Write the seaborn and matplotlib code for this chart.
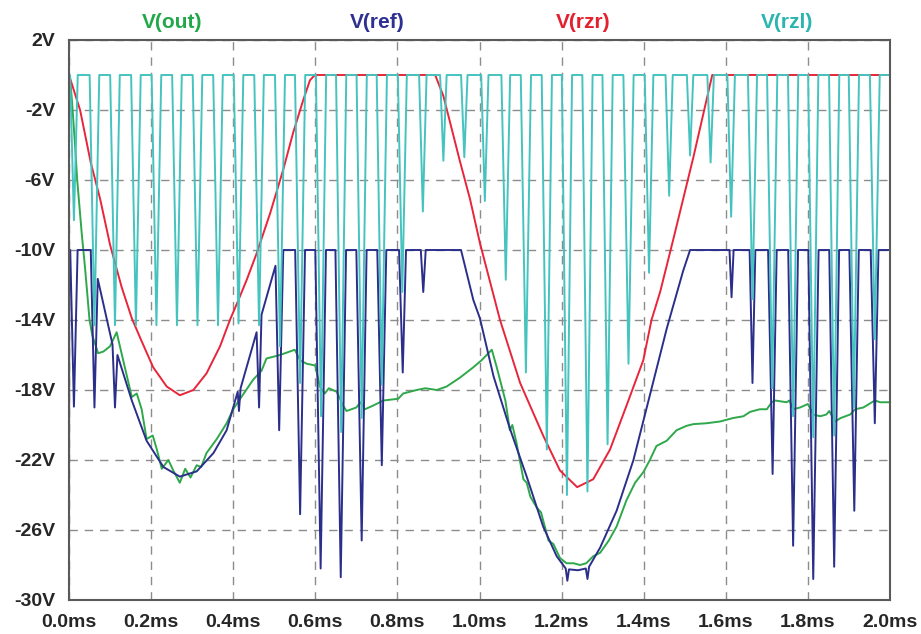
import numpy as np
import pandas as pd
import seaborn as sns
import matplotlib.pyplot as plt

# ---- data (time in ms, volts) ----
out_t = [0.0, 0.002, 0.007, 0.015, 0.020, 0.031, 0.039, 0.050, 0.057, 0.071, 0.084, 0.100, 0.116, 0.128,
         0.153, 0.165, 0.177, 0.189, 0.204, 0.214, 0.226, 0.242, 0.254, 0.270, 0.283, 0.296, 0.311, 0.322,
         0.335, 0.360, 0.384, 0.400, 0.417, 0.449, 0.469, 0.481, 0.514, 0.550, 0.563, 0.579, 0.600, 0.611,
         0.623, 0.633, 0.652, 0.668, 0.676, 0.700, 0.710, 0.721, 0.740, 0.766, 0.802, 0.814, 0.847, 0.868,
         0.896, 0.920, 0.952, 0.985, 1.005, 1.030, 1.042, 1.063, 1.074, 1.080, 1.090, 1.107, 1.115, 1.124,
         1.139, 1.150, 1.168, 1.180, 1.196, 1.212, 1.229, 1.245, 1.260, 1.277, 1.294, 1.315, 1.334, 1.358,
         1.379, 1.399, 1.415, 1.431, 1.456, 1.480, 1.504, 1.521, 1.553, 1.586, 1.602, 1.618, 1.643, 1.659,
         1.683, 1.700, 1.712, 1.720, 1.748, 1.755, 1.764, 1.781, 1.800, 1.813, 1.830, 1.845, 1.852, 1.866,
         1.880, 1.903, 1.915, 1.935, 1.963, 1.976, 2.0]
out_v = [0.0, -0.1, -1.4, -4.1, -6.0, -9.05, -11.0, -14.0, -14.9, -15.9, -15.8, -15.5, -14.7, -15.9,
         -18.4, -18.2, -19.1, -20.8, -20.6, -21.4, -22.5, -22.0, -22.6, -23.3, -22.5, -23.0, -22.3, -22.4,
         -21.6, -20.8, -19.9, -19.1, -18.5, -17.4, -16.9, -16.2, -16.0, -15.7, -16.3, -16.5, -16.6, -17.8,
         -18.2, -17.9, -18.1, -18.9, -19.2, -19.0, -18.7, -19.1, -18.9, -18.6, -18.5, -18.2, -18.0, -17.9,
         -18.0, -17.8, -17.3, -16.7, -16.3, -15.7, -16.7, -18.6, -20.3, -20.0, -21.0, -23.1, -23.3, -24.1,
         -24.7, -25.0, -26.6, -26.8, -27.6, -27.9, -27.9, -28.0, -27.9, -27.5, -27.3, -26.6, -25.8, -24.3,
         -23.3, -22.7, -22.0, -21.2, -20.9, -20.3, -20.05, -19.95, -19.9, -19.8, -19.7, -19.6, -19.5, -19.25,
         -19.1, -19.1, -18.7, -18.6, -18.7, -18.6, -19.1, -19.0, -18.8, -19.4, -19.5, -19.4, -19.2, -19.8,
         -19.6, -19.4, -19.1, -19.0, -18.6, -18.7, -18.7]

ref_t = [0.0, 0.0005, 0.003, 0.012, 0.021, 0.053, 0.062, 0.070, 0.106, 0.112, 0.118, 0.153, 0.189, 0.230,
         0.270, 0.311, 0.352, 0.384, 0.411, 0.414, 0.418, 0.457, 0.463, 0.469, 0.503, 0.512, 0.522, 0.551,
         0.563, 0.575, 0.600, 0.613, 0.626, 0.649, 0.662, 0.675, 0.700, 0.713, 0.725, 0.751, 0.762, 0.773,
         0.804, 0.813, 0.821, 0.857, 0.863, 0.869, 0.955, 0.985, 1.001, 1.034, 1.074, 1.115, 1.155, 1.188,
         1.210, 1.214, 1.218, 1.240, 1.259, 1.263, 1.267, 1.294, 1.334, 1.375, 1.415, 1.456, 1.496, 1.513,
         1.609, 1.614, 1.619, 1.658, 1.665, 1.672, 1.703, 1.714, 1.724, 1.752, 1.764, 1.776, 1.801, 1.813,
         1.826, 1.852, 1.864, 1.876, 1.901, 1.913, 1.924, 1.953, 1.963, 1.972, 2.0]
ref_v = [-30.5, -10.0, -10.0, -18.95, -10.0, -10.0, -19.0, -11.65, -15.4, -19.0, -16.0, -18.6, -20.9, -22.4,
         -22.95, -22.65, -21.6, -20.3, -18.1, -19.2, -17.9, -14.7, -19.0, -13.7, -10.9, -20.3, -10.0, -10.0,
         -25.1, -10.0, -10.0, -28.2, -10.0, -10.0, -28.7, -10.0, -10.0, -26.6, -10.0, -10.0, -22.3, -10.0,
         -10.0, -17.0, -10.0, -10.0, -12.4, -10.0, -10.0, -12.86, -13.9, -17.2, -20.2, -22.95, -25.8, -27.5,
         -28.2, -28.9, -28.25, -28.3, -28.2, -28.8, -28.1, -27.0, -24.9, -22.0, -18.3, -14.5, -11.2, -10.0,
         -10.0, -12.7, -10.0, -10.0, -17.6, -10.0, -10.0, -22.8, -10.0, -10.0, -26.9, -10.0, -10.0, -28.8,
         -10.0, -10.0, -28.1, -10.0, -10.0, -24.9, -10.0, -10.0, -19.9, -10.0, -10.0]

rzr_t = [0.0, 0.027, 0.053, 0.076, 0.100, 0.128, 0.153, 0.173, 0.205, 0.238, 0.270, 0.303, 0.335, 0.368,
         0.392, 0.412, 0.433, 0.457, 0.490, 0.522, 0.546, 0.571, 0.587, 0.599, 0.892, 0.912, 0.952, 0.977,
         1.001, 1.050, 1.099, 1.155, 1.196, 1.238, 1.277, 1.318, 1.358, 1.399, 1.419, 1.440, 1.472, 1.521,
         1.567, 2.0]
rzr_v = [0.0, -2.0, -5.0, -7.1, -9.7, -12.1, -13.9, -15.0, -16.7, -17.8, -18.3, -18.0, -17.05, -15.5,
         -14.0, -12.9, -11.7, -10.2, -7.9, -5.4, -3.3, -1.4, -0.3, 0.0, 0.0, -1.2, -4.9, -7.1,
         -9.6, -14.0, -17.6, -20.6, -22.6, -23.55, -23.1, -21.4, -18.9, -16.3, -14.0, -12.4, -9.4, -4.7,
         0.0, 0.0]

# V(rzl): pulse train sitting at 0 V, each pulse dips to the level read below
rzl_dip_t = [0.012, 0.062, 0.112, 0.163, 0.213, 0.263, 0.313, 0.363, 0.413, 0.463,
             0.514, 0.563, 0.614, 0.663, 0.713, 0.762, 0.812, 0.862, 0.912, 0.963,
             1.013, 1.064, 1.113, 1.164, 1.213, 1.263, 1.312, 1.363, 1.413, 1.462,
             1.513, 1.563, 1.613, 1.665, 1.713, 1.764, 1.813, 1.864, 1.912, 1.963]
rzl_dip_v = [-8.3, -14.3, -14.3, -14.3, -14.3, -14.3, -14.3, -14.3, -14.2, -14.3,
             -15.5, -17.6, -19.5, -20.4, -19.6, -17.7, -12.4, -7.8, -4.9, -4.7,
             -7.2, -11.7, -17.0, -21.4, -24.0, -23.8, -21.1, -16.5, -11.3, -6.9,
             -4.6, -5.0, -8.1, -12.8, -17.9, -19.5, -20.7, -20.6, -19.0, -15.1]

y_ticks = [2, -2, -6, -10, -14, -18, -22, -26, -30]
x_ticks = [0.0, 0.2, 0.4, 0.6, 0.8, 1.0, 1.2, 1.4, 1.6, 1.8, 2.0]

# build the rzl polyline from the dips
rt, rv = [0.0], [0.0]
for tc, d in zip(rzl_dip_t, rzl_dip_v):
    w = min(0.0125, 0.006 + 0.0004 * abs(d))
    rt += [max(tc - w, 0.0), tc, tc + w]
    rv += [0.0, d, 0.0]
rt.append(2.0)
rv.append(0.0)

sns.set_style("white")
plt.rcParams['font.family'] = ['Liberation Sans', 'DejaVu Sans']
plt.rcParams['font.weight'] = 'bold'

fig = plt.figure(figsize=(9.21, 6.34), dpi=100)
ax = fig.add_axes([69 / 921, 1 - 600 / 634, (890 - 69) / 921, (600 - 40) / 634])

c_out, c_ref, c_rzr, c_rzl = '#2ea84a', '#2b2f8a', '#e8253a', '#45c3bf'

series = [(out_t, out_v, c_out), (ref_t, ref_v, c_ref), (rzr_t, rzr_v, c_rzr), (rt, rv, c_rzl)]
for tt, vv, col in series:
    df = pd.DataFrame({'t': tt, 'v': vv})
    sns.lineplot(data=df, x='t', y='v', sort=False, estimator=None, color=col, lw=1.4, ax=ax)

ax.set_xlim(0, 2.0)
ax.set_ylim(-30, 2)
ax.set_xticks(x_ticks)
ax.set_xticklabels([f'{t:.1f}ms' for t in x_ticks])
ax.set_yticks(y_ticks)
ax.set_yticklabels([f'{v}V' for v in y_ticks])
ax.set_xlabel('')
ax.set_ylabel('')
ax.tick_params(axis='both', labelsize=14, length=8.5, width=1.3, color='#444444', pad=1.5, direction='out')
for lab in ax.get_xticklabels() + ax.get_yticklabels():
    lab.set_fontweight('bold')

ax.grid(True, color='#8c8c8c', lw=1.0, linestyle=(0, (6, 5)))
ax.set_axisbelow(True)
for sp in ax.spines.values():
    sp.set_color('#5a5a5a')
    sp.set_linewidth(1.5)

# trace names above the plot
for name, col, xp in [('V(out)', '#22a84a', 172), ('V(ref)', '#2e3192', 377),
                      ('V(rzr)', '#e4202f', 583), ('V(rzl)', '#2cb5b0', 787)]:
    fig.text(xp / 921, 1 - 22 / 634, name, color=col, fontsize=15, fontweight='bold',
             ha='center', va='center')

plt.savefig('out.png', dpi=100)
